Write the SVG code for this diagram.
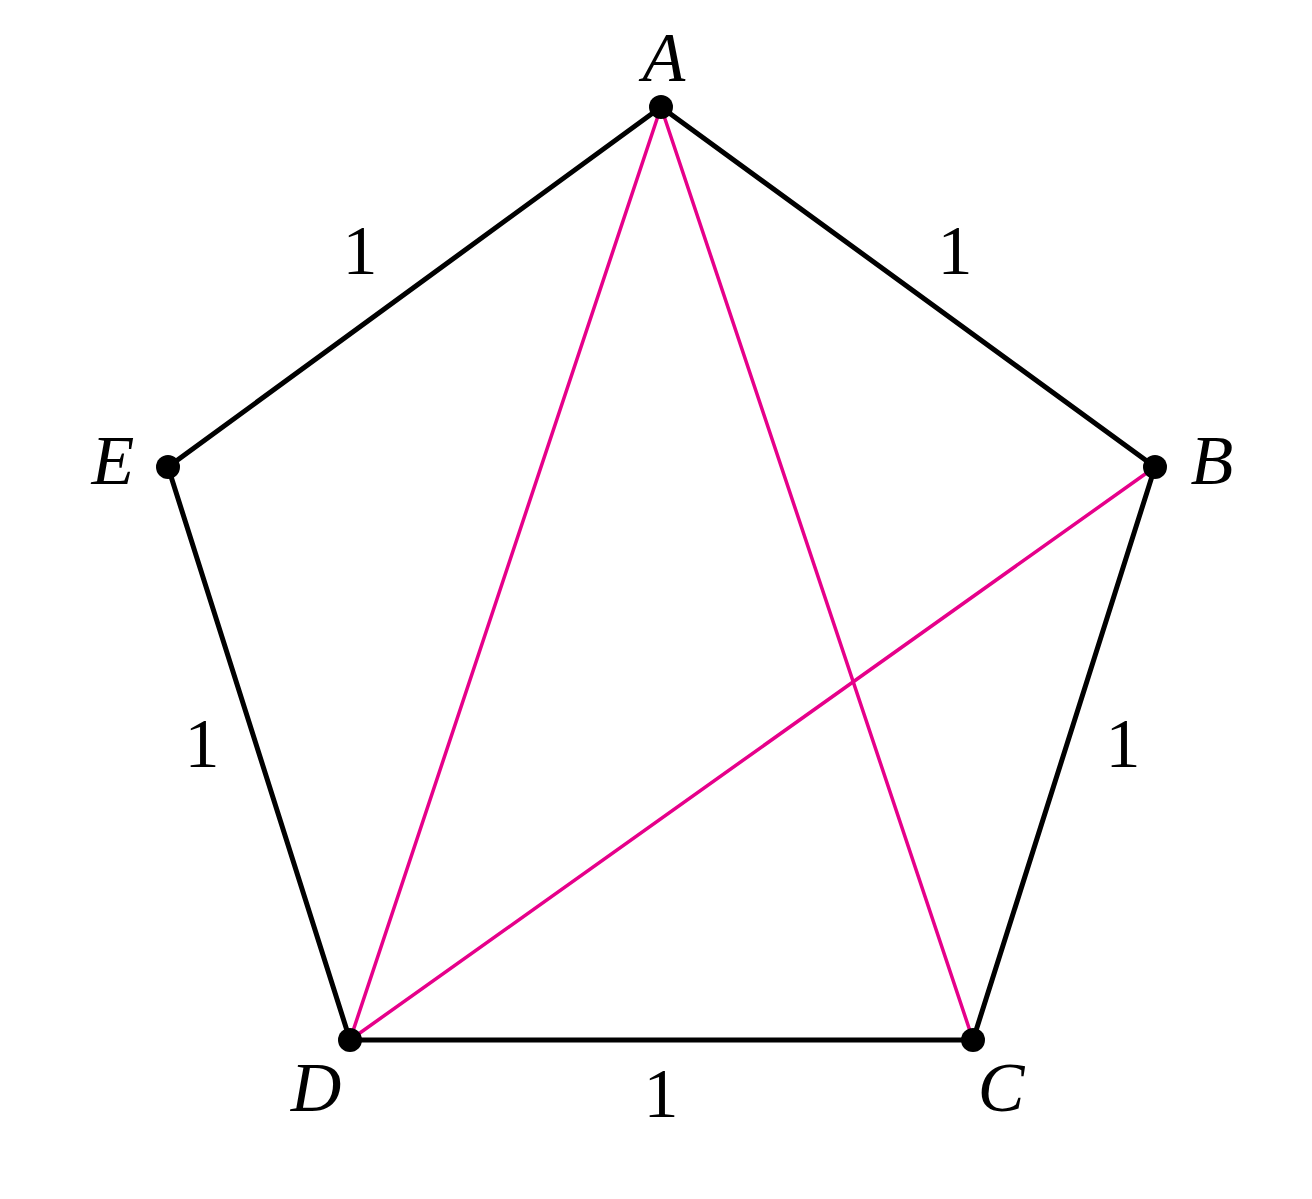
<svg xmlns="http://www.w3.org/2000/svg" width="1312" height="1199" viewBox="0 0 1312 1199">
<style>
.edge{stroke:#000;stroke-width:5;stroke-linecap:round;fill:none}
.diag{stroke:#E6008A;stroke-width:3.5;stroke-linecap:round;fill:none}
.pt{fill:#000}
.lbl{font-family:"Liberation Serif","DejaVu Serif",serif;font-style:italic;font-size:70px;fill:#000;text-anchor:middle}
.num{font-family:"Liberation Serif","DejaVu Serif",serif;font-size:70px;fill:#000;text-anchor:middle}
</style>
<rect width="1312" height="1199" fill="#fff"/>
<g id="connectors">
<polygon class="edge" points="661,107 1155,467 973,1040 350,1040 168,467"/>
<line class="diag" x1="661" y1="107" x2="350" y2="1040"/>
<line class="diag" x1="661" y1="107" x2="973" y2="1040"/>
<line class="diag" x1="1155" y1="467" x2="350" y2="1040"/>
</g>
<g id="edge-labels">
<text class="num" x="360" y="274">1</text>
<text class="num" x="955" y="274">1</text>
<text class="num" x="202" y="767">1</text>
<text class="num" x="1123" y="767">1</text>
<text class="num" x="661" y="1117">1</text>
</g>
<g id="node-A"><circle class="pt" cx="661" cy="107" r="12"/><text class="lbl" x="664" y="81">A</text></g>
<g id="node-B"><circle class="pt" cx="1155" cy="467" r="12"/><text class="lbl" x="1212" y="484">B</text></g>
<g id="node-C"><circle class="pt" cx="973" cy="1040" r="12"/><text class="lbl" x="1001" y="1111">C</text></g>
<g id="node-D"><circle class="pt" cx="350" cy="1040" r="12"/><text class="lbl" x="316" y="1111">D</text></g>
<g id="node-E"><circle class="pt" cx="168" cy="467" r="12"/><text class="lbl" x="113" y="484">E</text></g>
</svg>
